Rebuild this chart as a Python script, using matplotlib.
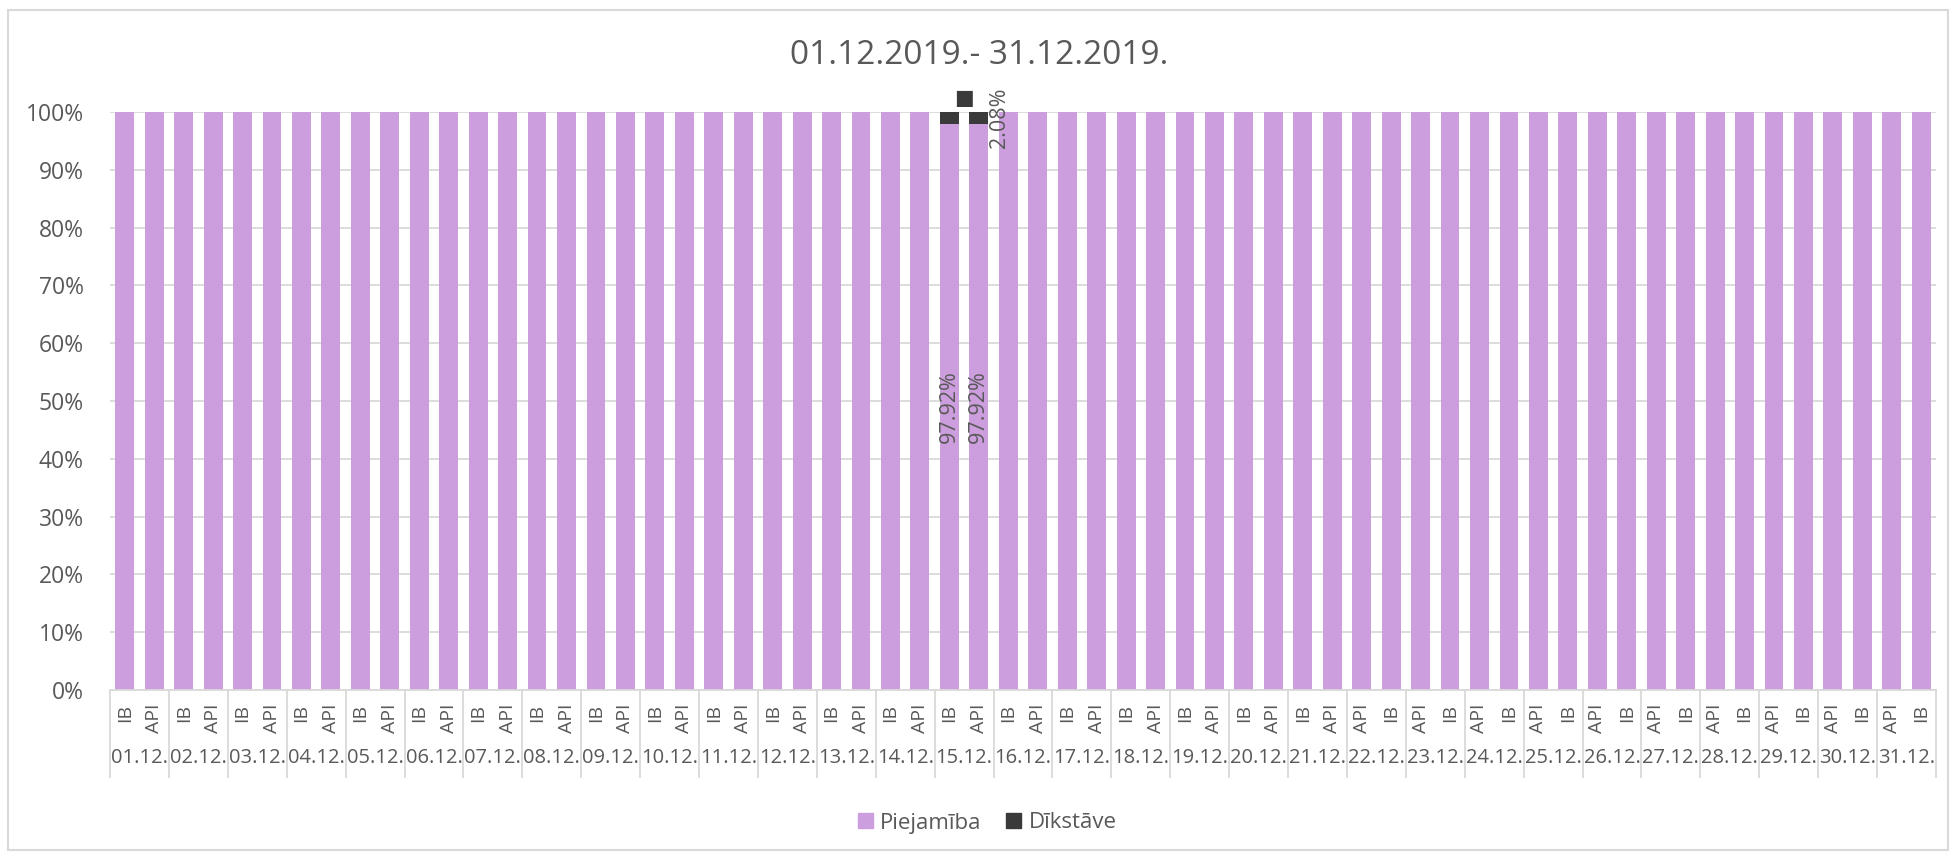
import matplotlib
matplotlib.use("Agg")
import matplotlib.pyplot as plt
from matplotlib.patches import Patch, Rectangle
from matplotlib.transforms import blended_transform_factory

TITLE = "01.12.2019.- 31.12.2019."
DAYS = ["01.12.", "02.12.", "03.12.", "04.12.", "05.12.", "06.12.", "07.12.", "08.12.",
        "09.12.", "10.12.", "11.12.", "12.12.", "13.12.", "14.12.", "15.12.", "16.12.",
        "17.12.", "18.12.", "19.12.", "20.12.", "21.12.", "22.12.", "23.12.", "24.12.",
        "25.12.", "26.12.", "27.12.", "28.12.", "29.12.", "30.12.", "31.12."]
# system order inside each day (changes from 22.12.)
SYSTEMS = (["IB", "API"] * 21) + (["API", "IB"] * 10)
# percentages per bar (62 bars)
AVAILABILITY = [100.0] * 28 + [97.92, 97.92] + [100.0] * 32
DOWNTIME = [0.0] * 28 + [2.08, 2.08] + [0.0] * 32
SERIES = ["Piejamība", "Dīkstāve"]

PURPLE = "#CC9EDD"
DARK = "#3A3A3A"
TEXT = "#595959"
GRID = "#D9D9D9"

plt.rcParams["font.family"] = ["Open Sans", "DejaVu Sans"]


def main():
    fig = plt.figure(figsize=(19.55, 8.57), dpi=100)
    fig.patches.append(Rectangle((8 / 1955, 7 / 857), 1940 / 1955, 840 / 857,
                                 transform=fig.transFigure, fill=False,
                                 edgecolor=GRID, linewidth=1.5))
    ax = fig.add_axes([110 / 1955, 167 / 857, 1826 / 1955, 578 / 857])
    plot_data(ax)
    set_properties(fig, ax)
    fig.savefig("out.png", dpi=100)


def plot_data(ax):
    x = list(range(len(AVAILABILITY)))
    ax.bar(x, AVAILABILITY, width=0.64, color=PURPLE, zorder=2)
    ax.bar(x, DOWNTIME, bottom=AVAILABILITY, width=0.64, color=DARK, zorder=2)

    for i, (a, d) in enumerate(zip(AVAILABILITY, DOWNTIME)):
        if d > 0:
            ax.annotate(f"{a:.2f}%", (i, a / 2), rotation=90, ha="center", va="center",
                        color=TEXT, fontsize=15.5, zorder=3)
    down_idx = [i for i, d in enumerate(DOWNTIME) if d > 0]
    first, last = down_idx[0], down_idx[-1]
    ax.annotate(f"{DOWNTIME[last]:.2f}%", (last, AVAILABILITY[last] + DOWNTIME[last] / 2),
                xytext=(15, 0), textcoords="offset points", rotation=90,
                ha="center", va="center", color=TEXT, fontsize=15.5,
                annotation_clip=False, zorder=3)
    ax.annotate("■", (first + 0.5, AVAILABILITY[first] + DOWNTIME[first]),
                xytext=(0, 10), textcoords="offset points", ha="center", va="center",
                color=DARK, fontsize=15, family="DejaVu Sans",
                annotation_clip=False, zorder=3)


def set_properties(fig, ax):
    n = len(AVAILABILITY)
    ax.set_xlim(-0.5, n - 0.5)
    ax.set_ylim(0, 100)
    ax.set_yticks(range(0, 101, 10))
    ax.set_yticklabels([f"{v}%" for v in range(0, 101, 10)])
    ax.yaxis.grid(True, color=GRID, linewidth=1.3, zorder=0)
    ax.set_axisbelow(True)
    for side in ["left", "right", "top"]:
        ax.spines[side].set_visible(False)
    ax.spines["bottom"].set_color(GRID)
    ax.spines["bottom"].set_linewidth(1.3)
    ax.tick_params(axis="y", length=0, pad=19, labelsize=16.5, labelcolor=TEXT)

    # day separators as long major ticks, system names as minor tick labels
    ax.set_xticks([b - 0.5 for b in range(0, n + 1, 2)])
    ax.set_xticklabels([])
    ax.tick_params(axis="x", which="major", length=63, width=1.3, color=GRID)
    ax.set_xticks(range(n), minor=True)
    ax.set_xticklabels(SYSTEMS, minor=True, rotation=90)
    ax.tick_params(axis="x", which="minor", length=0, pad=10, labelsize=14, labelcolor=TEXT)

    trans = blended_transform_factory(ax.transData, ax.transAxes)
    for k, day in enumerate(DAYS):
        ax.text(2 * k + 0.5, -0.118, day, transform=trans, ha="center", va="center",
                fontsize=14.5, color=TEXT)

    fig.text(0.501, 1 - 55 / 857, TITLE, ha="center", va="center", fontsize=24, color=TEXT)
    handles = [Patch(color=PURPLE), Patch(color=DARK)]
    fig.legend(handles, SERIES, loc="center", bbox_to_anchor=(0.505, 1 - 823 / 857),
               ncol=2, frameon=False, fontsize=16, handlelength=0.65, handleheight=0.65,
               handletextpad=0.35, columnspacing=1.1, labelcolor=TEXT)


if __name__ == "__main__":
    main()
